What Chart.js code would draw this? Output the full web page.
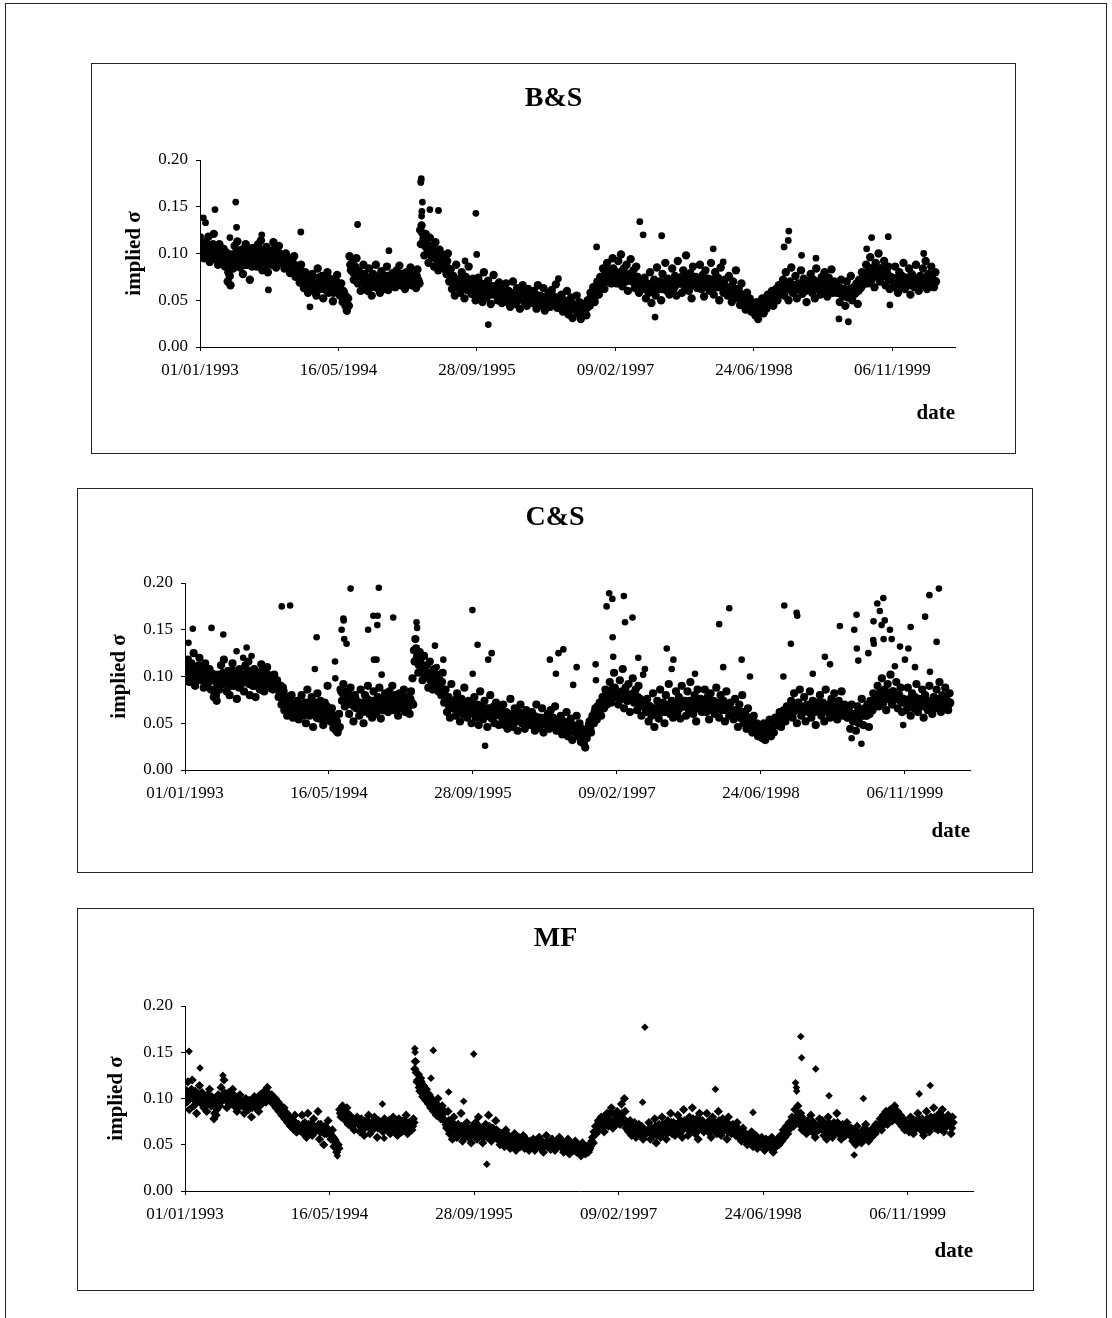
<!DOCTYPE html>
<html>
<head>
<meta charset="utf-8">
<script src="https://cdn.jsdelivr.net/npm/chart.js@4.4.0/dist/chart.umd.min.js"></script>
<style>
  body { margin: 0; background: #fff; }
  #page { position: relative; width: 1112px; height: 1318px; overflow: hidden; }
  .frame { position: absolute; border: 1px solid #222; box-sizing: border-box; }
  .panel canvas { position: absolute; left: -1px; top: -1px; }
</style>
</head>
<body>
<div id="page">
  <div class="frame" style="left:5px; top:3px; width:1102px; height:1340px;"></div>
</div>
<script>
// x values are calendar days counted from 01/01/1993
const stepDays = 5;          // spacing of each main series
const axisEndDay = 2726;
const tickDays = [0, 500, 1000, 1500, 2000, 2500];
const tickLabels = ['01/01/1993', '16/05/1994', '28/09/1995', '09/02/1997', '24/06/1998', '06/11/1999'];
const yTicks = [0, 0.05, 0.10, 0.15, 0.20];

// implied sigma in thousandths.
// *Vol: days 0, 5, 10, ...   *Vol2: days 2.5, 7.5, 12.5, ...
const bsVol = [
  104, 97, 112, 95, 108, 100, 118, 91, 106, 99, 121, 94, 103, 88, 110, 97, 92, 105, 86, 101,
  70, 92, 66, 99, 84, 108, 90, 113, 96, 85, 104, 78, 97, 110, 88, 101, 72, 94, 106, 90,
  98, 86, 110, 93, 114, 82, 100, 91, 107, 80, 96, 103, 88, 112, 94, 85, 99, 108, 90, 97,
  92, 84, 100, 88, 95, 79, 90, 86, 97, 75, 85, 80, 69, 88, 74, 63, 80, 70, 58, 76,
  65, 78, 60, 72, 55, 84, 68, 62, 76, 52, 70, 64, 80, 58, 73, 66, 49, 71, 60, 77,
  62, 55, 68, 48, 58, 44, 39, 52, 97, 82, 90, 72, 86, 95, 68, 80, 60, 75, 88, 66,
  72, 60, 84, 67, 55, 78, 70, 88, 63, 74, 58, 81, 69, 65, 76, 86, 61, 73, 68, 79,
  75, 64, 82, 70, 87, 66, 78, 72, 62, 80, 69, 74, 85, 66, 77, 71, 63, 83, 70, 125,
  130, 112, 98, 121, 105, 90, 117, 100, 108, 86, 112, 95, 82, 104, 90, 99, 84, 93, 78, 100,
  70, 83, 62, 76, 55, 88, 66, 72, 58, 80, 64, 52, 75, 61, 86, 68, 57, 73, 63, 50,
  62, 74, 55, 68, 48, 80, 60, 53, 71, 58, 46, 65, 77, 56, 62, 50, 69, 59, 47, 64,
  55, 68, 48, 60, 43, 57, 70, 51, 46, 63, 54, 41, 59, 66, 49, 55, 44, 62, 52, 58,
  47, 60, 52, 41, 66, 55, 45, 50, 63, 39, 54, 48, 58, 43, 61, 51, 46, 67, 42, 53,
  45, 56, 38, 50, 42, 60, 35, 47, 53, 31, 44, 40, 55, 36, 48, 30, 42, 38, 46, 34,
  50, 44, 58, 52, 64, 48, 60, 70, 56, 75, 66, 84, 62, 78, 90, 70, 82, 68, 95, 76,
  80, 68, 92, 74, 99, 65, 84, 72, 88, 60, 78, 94, 70, 82, 63, 86, 75, 58, 71, 66,
  62, 74, 52, 68, 58, 80, 47, 65, 72, 55, 85, 62, 70, 50, 78, 66, 90, 60, 73, 56,
  70, 84, 62, 76, 55, 92, 68, 74, 58, 82, 65, 98, 72, 60, 79, 52, 86, 67, 75, 63,
  70, 88, 62, 77, 54, 82, 66, 73, 60, 90, 69, 56, 80, 64, 74, 50, 85, 67, 58, 72,
  64, 55, 76, 60, 48, 70, 57, 82, 52, 62, 45, 68, 55, 48, 40, 58, 44, 52, 38, 46,
  40, 34, 48, 30, 44, 38, 52, 36, 45, 41, 56, 47, 50, 60, 44, 55, 62, 50, 66, 57,
  60, 72, 55, 80, 64, 50, 70, 85, 58, 66, 76, 52, 68, 62, 82, 57, 73, 65, 48, 70,
  66, 78, 58, 72, 52, 84, 63, 70, 56, 75, 68, 80, 60, 54, 74, 65, 83, 58, 70, 62,
  58, 66, 48, 72, 55, 62, 44, 70, 53, 60, 76, 50, 64, 57, 68, 46, 72, 63, 80, 67,
  74, 88, 68, 82, 96, 72, 85, 64, 90, 78, 100, 70, 84, 76, 92, 66, 80, 86, 62, 75,
  72, 64, 86, 70, 58, 80, 66, 76, 90, 62, 74, 68, 84, 56, 78, 70, 64, 88, 73, 60,
  76, 66, 84, 70, 92, 62, 78, 68, 86, 72, 64, 80
];
const bsVol2 = [
  100, 108, 96, 104, 112, 98, 106, 102, 94, 110, 100, 106, 97, 102, 92, 104, 98, 96, 100, 94,
  80, 76, 86, 92, 98, 94, 102, 100, 90, 96, 92, 100, 88, 104, 96, 92, 98, 86, 100, 96,
  92, 100, 96, 104, 90, 98, 94, 100, 88, 102, 92, 98, 96, 104, 90, 96, 92, 100, 96, 90,
  90, 96, 92, 86, 90, 84, 94, 80, 88, 82, 78, 86, 76, 80, 70, 74, 68, 76, 66, 70,
  70, 66, 72, 64, 68, 74, 62, 70, 66, 64, 74, 60, 68, 72, 62, 70, 58, 66, 70, 62,
  58, 62, 54, 60, 50, 54, 46, 44, 88, 86, 80, 84, 78, 74, 82, 72, 76, 70, 78, 72,
  68, 74, 70, 64, 72, 68, 76, 72, 66, 70, 74, 68, 62, 72, 70, 76, 68, 66, 74, 70,
  72, 70, 76, 68, 74, 72, 70, 76, 68, 74, 70, 78, 72, 70, 74, 68, 76, 72, 68, 110,
  122, 116, 108, 112, 100, 106, 104, 96, 102, 98, 94, 100, 92, 96, 88, 94, 90, 86, 92, 84,
  76, 70, 74, 66, 72, 64, 70, 68, 74, 62, 70, 66, 64, 70, 68, 62, 66, 64, 70, 60,
  58, 64, 60, 62, 56, 66, 58, 62, 60, 64, 56, 60, 62, 58, 66, 56, 60, 62, 58, 56,
  52, 56, 54, 58, 50, 56, 52, 58, 54, 50, 56, 52, 54, 58, 52, 56, 50, 54, 56, 52,
  52, 50, 56, 48, 52, 50, 54, 48, 52, 50, 46, 54, 50, 52, 48, 54, 50, 48, 52, 50,
  46, 44, 48, 42, 46, 44, 48, 40, 44, 46, 40, 44, 42, 46, 40, 42, 38, 42, 40, 42,
  48, 44, 54, 50, 60, 54, 66, 60, 70, 64, 74, 68, 78, 70, 80, 74, 82, 76, 84, 78,
  76, 78, 72, 80, 76, 74, 78, 70, 76, 74, 72, 78, 76, 70, 74, 72, 68, 70, 66, 68,
  66, 64, 68, 62, 66, 64, 60, 66, 64, 62, 68, 64, 66, 62, 68, 64, 70, 66, 62, 64,
  68, 72, 70, 66, 72, 70, 74, 68, 72, 70, 74, 72, 68, 72, 70, 66, 72, 70, 68, 70,
  68, 72, 66, 70, 64, 70, 66, 68, 70, 72, 66, 68, 70, 66, 68, 64, 70, 66, 62, 64,
  62, 60, 64, 58, 60, 56, 62, 58, 56, 54, 52, 56, 50, 52, 48, 50, 46, 48, 44, 46,
  42, 40, 44, 38, 42, 40, 44, 42, 44, 46, 48, 46, 50, 52, 54, 52, 56, 58, 60, 58,
  62, 64, 60, 66, 62, 64, 66, 62, 64, 60, 66, 64, 62, 66, 64, 62, 66, 60, 64, 62,
  64, 66, 62, 68, 64, 66, 62, 68, 66, 64, 68, 62, 66, 64, 68, 64, 66, 62, 64, 60,
  60, 58, 62, 56, 60, 58, 54, 60, 58, 62, 58, 60, 62, 58, 64, 60, 66, 64, 70, 72,
  74, 78, 80, 76, 82, 78, 80, 76, 82, 78, 80, 84, 78, 80, 76, 78, 74, 76, 72, 74,
  70, 72, 68, 74, 70, 72, 68, 74, 70, 72, 68, 70, 72, 66, 70, 72, 68, 70, 72, 68,
  70, 72, 68, 74, 70, 72, 68, 74, 70, 72, 68, 70
];
// isolated points: [day, sigma in thousandths]
const bsOutliers = [
  [2, 118], [12, 138], [20, 133], [54, 147], [108, 117], [129, 155], [132, 128], [223, 120],
  [247, 61], [364, 123], [397, 43], [529, 40], [531, 38], [569, 131], [682, 103],
  [797, 176], [798, 178], [799, 180], [800, 140], [801, 145], [803, 155], [830, 147], [861, 146],
  [957, 92], [996, 143], [999, 99], [1041, 24], [1294, 73], [1432, 107], [1588, 134], [1600, 120],
  [1643, 32], [1667, 119], [1853, 105], [1889, 91], [2109, 107], [2124, 114], [2126, 124],
  [2172, 98], [2224, 95], [2307, 30], [2341, 27], [2407, 105], [2425, 117], [2485, 118],
  [2491, 45], [2613, 100]
];

const csVol = [
  108, 98, 118, 94, 112, 102, 125, 90, 110, 100, 120, 96, 106, 88, 114, 99, 93, 108, 86, 103,
  78, 95, 74, 102, 86, 112, 92, 118, 98, 84, 106, 80, 99, 114, 90, 104, 76, 96, 108, 92,
  100, 84, 112, 95, 116, 80, 102, 90, 108, 78, 98, 104, 86, 113, 96, 84, 100, 110, 88, 97,
  94, 86, 102, 88, 96, 78, 84, 70, 88, 64, 76, 58, 72, 62, 80, 56, 68, 60, 74, 54,
  66, 80, 58, 72, 50, 86, 64, 60, 78, 46, 70, 62, 82, 55, 74, 65, 48, 72, 58, 90,
  62, 52, 66, 45, 56, 42, 40, 60, 86, 74, 92, 68, 84, 78, 60, 88, 72, 52, 80, 66,
  70, 58, 86, 64, 50, 80, 68, 90, 60, 74, 56, 84, 66, 62, 78, 88, 55, 72, 64, 82,
  76, 62, 84, 68, 90, 64, 80, 72, 58, 82, 66, 74, 86, 62, 78, 70, 60, 84, 98, 128,
  140, 120, 104, 126, 110, 96, 122, 102, 112, 88, 116, 98, 86, 108, 92, 102, 84, 96, 80, 104,
  72, 86, 62, 78, 56, 92, 66, 74, 58, 82, 64, 52, 76, 60, 88, 68, 56, 74, 62, 50,
  64, 78, 56, 70, 48, 84, 62, 54, 74, 58, 46, 66, 80, 55, 64, 50, 72, 60, 48, 66,
  58, 70, 48, 62, 44, 60, 76, 52, 46, 66, 55, 42, 62, 70, 50, 56, 44, 64, 52, 60,
  48, 62, 54, 42, 70, 56, 45, 52, 66, 40, 56, 48, 60, 44, 64, 52, 46, 68, 42, 54,
  46, 58, 38, 52, 42, 62, 36, 48, 55, 32, 45, 40, 58, 36, 50, 30, 42, 28, 24, 34,
  44, 52, 40, 58, 50, 66, 54, 62, 72, 58, 78, 66, 86, 70, 80, 94, 72, 84, 104, 78,
  82, 70, 96, 76, 108, 66, 88, 74, 92, 62, 80, 98, 72, 86, 64, 90, 76, 58, 72, 68,
  62, 76, 52, 68, 58, 82, 46, 66, 74, 55, 86, 62, 72, 50, 80, 66, 92, 60, 74, 56,
  72, 84, 62, 78, 55, 90, 68, 74, 58, 84, 64, 94, 72, 60, 80, 52, 86, 66, 76, 62,
  70, 86, 62, 78, 54, 82, 66, 74, 60, 88, 68, 56, 80, 64, 74, 52, 84, 66, 58, 72,
  62, 54, 76, 58, 46, 70, 56, 80, 50, 62, 44, 66, 54, 46, 40, 58, 44, 50, 36, 46,
  42, 34, 50, 32, 46, 38, 54, 36, 46, 40, 56, 48, 52, 62, 46, 58, 64, 52, 68, 58,
  62, 74, 56, 82, 64, 50, 72, 86, 58, 66, 78, 52, 70, 62, 84, 56, 74, 66, 48, 72,
  66, 80, 58, 72, 52, 86, 64, 70, 56, 76, 68, 82, 60, 54, 74, 66, 84, 58, 70, 62,
  56, 64, 44, 70, 52, 60, 42, 68, 50, 62, 76, 48, 66, 58, 70, 46, 74, 64, 82, 68,
  76, 90, 68, 84, 98, 72, 86, 64, 92, 78, 102, 70, 84, 76, 94, 66, 80, 88, 62, 76,
  74, 64, 88, 70, 58, 82, 66, 78, 92, 62, 76, 68, 86, 56, 80, 70, 64, 90, 74, 60,
  78, 66, 86, 70, 94, 62, 80, 68, 88, 72, 64, 82
];
const csVol2 = [
  102, 110, 98, 106, 114, 100, 108, 104, 96, 112, 102, 108, 99, 104, 94, 106, 100, 98, 102, 96,
  84, 80, 90, 96, 100, 96, 104, 102, 92, 98, 94, 102, 90, 106, 98, 94, 100, 88, 102, 98,
  94, 102, 98, 106, 92, 100, 96, 102, 90, 104, 94, 100, 98, 106, 92, 98, 94, 102, 98, 92,
  92, 98, 94, 88, 92, 84, 90, 78, 84, 74, 72, 78, 68, 72, 64, 68, 62, 70, 60, 64,
  66, 62, 70, 60, 66, 72, 58, 68, 64, 60, 72, 56, 66, 70, 58, 68, 54, 64, 68, 60,
  58, 62, 52, 58, 48, 52, 44, 46, 84, 82, 78, 82, 76, 72, 80, 70, 74, 68, 76, 70,
  68, 72, 70, 62, 72, 66, 76, 70, 64, 70, 74, 66, 60, 72, 68, 76, 66, 64, 72, 68,
  72, 70, 76, 68, 74, 72, 70, 76, 66, 74, 70, 78, 72, 70, 74, 68, 76, 72, 70, 116,
  130, 122, 112, 116, 104, 110, 106, 100, 104, 100, 96, 102, 94, 98, 90, 96, 92, 88, 94, 86,
  78, 72, 76, 68, 74, 66, 72, 70, 76, 64, 72, 68, 66, 72, 70, 64, 68, 66, 72, 62,
  60, 66, 62, 64, 58, 68, 60, 64, 62, 66, 58, 62, 64, 60, 68, 58, 62, 64, 60, 58,
  54, 58, 56, 60, 52, 58, 54, 60, 56, 52, 58, 54, 56, 60, 54, 58, 52, 56, 58, 54,
  54, 52, 58, 50, 54, 52, 56, 50, 54, 52, 48, 56, 52, 54, 50, 56, 52, 50, 54, 52,
  48, 46, 50, 44, 48, 46, 50, 42, 46, 48, 42, 46, 44, 48, 42, 44, 38, 40, 36, 42,
  48, 44, 54, 50, 62, 56, 68, 62, 72, 66, 78, 70, 82, 74, 84, 78, 86, 80, 88, 82,
  80, 82, 76, 84, 80, 78, 82, 74, 80, 78, 76, 82, 80, 74, 78, 76, 70, 72, 68, 70,
  66, 64, 68, 62, 66, 64, 60, 66, 64, 62, 68, 64, 66, 62, 68, 64, 70, 66, 62, 64,
  68, 72, 70, 66, 72, 70, 74, 68, 72, 70, 74, 72, 68, 72, 70, 66, 72, 70, 68, 70,
  68, 72, 66, 70, 64, 70, 66, 68, 70, 72, 66, 68, 70, 66, 68, 64, 70, 66, 62, 64,
  62, 60, 64, 58, 60, 56, 62, 58, 56, 54, 52, 56, 50, 52, 48, 50, 46, 48, 44, 46,
  44, 42, 46, 40, 44, 42, 46, 44, 46, 48, 50, 48, 52, 54, 56, 54, 58, 60, 62, 60,
  64, 66, 62, 68, 64, 66, 68, 64, 66, 62, 68, 66, 64, 68, 66, 64, 68, 62, 66, 64,
  64, 66, 62, 68, 64, 66, 62, 68, 66, 64, 68, 62, 66, 64, 68, 64, 66, 62, 64, 60,
  58, 56, 60, 54, 58, 56, 52, 58, 56, 60, 58, 60, 62, 58, 64, 60, 66, 64, 70, 72,
  74, 78, 80, 76, 82, 78, 80, 76, 82, 78, 80, 84, 78, 80, 76, 78, 74, 76, 72, 74,
  72, 74, 70, 76, 72, 74, 70, 76, 72, 74, 70, 72, 74, 68, 72, 74, 70, 72, 74, 70,
  72, 74, 70, 76, 72, 74, 70, 76, 72, 74, 70, 72
];
const csOutliers = [
  [12, 136], [27, 151], [92, 152], [133, 145], [179, 127], [202, 120], [214, 131], [231, 122],
  [336, 175], [365, 176], [451, 108], [457, 142], [521, 116], [522, 98], [544, 150], [550, 162],
  [551, 160], [553, 140], [561, 135], [575, 194], [636, 150], [654, 165], [656, 118], [665, 118],
  [668, 155], [669, 165], [673, 195], [683, 102], [723, 163], [804, 158], [806, 152], [868, 133],
  [874, 110], [897, 118], [998, 171], [999, 103], [1016, 134], [1042, 26], [1053, 118], [1065, 125],
  [1267, 118], [1288, 103], [1297, 125], [1314, 129], [1348, 91], [1360, 110], [1426, 113],
  [1427, 96], [1464, 175], [1473, 189], [1484, 183], [1485, 142], [1487, 121], [1524, 186],
  [1528, 158], [1554, 163], [1574, 120], [1591, 102], [1597, 108], [1673, 130], [1690, 108],
  [1696, 118], [1771, 103], [1855, 156], [1869, 110], [1890, 173], [1933, 118], [1962, 100],
  [2078, 100], [2081, 176], [2104, 135], [2124, 168], [2126, 165], [2180, 103], [2222, 121],
  [2240, 113], [2274, 154], [2315, 34], [2324, 150], [2332, 166], [2333, 130], [2338, 117],
  [2349, 28], [2373, 125], [2390, 139], [2391, 159], [2392, 135], [2404, 178], [2413, 170],
  [2419, 155], [2425, 184], [2426, 140], [2430, 160], [2448, 150], [2454, 140], [2465, 111],
  [2483, 132], [2494, 48], [2500, 118], [2512, 130], [2520, 153], [2535, 110], [2570, 164],
  [2585, 187], [2587, 105], [2610, 137], [2618, 194]
];

const mfVol = [
  110, 96, 118, 88, 104, 120, 92, 108, 84, 100, 114, 95, 106, 90, 102, 86, 98, 110, 92, 100,
  78, 96, 88, 104, 92, 112, 98, 120, 100, 90, 106, 94, 100, 110, 92, 102, 86, 96, 104, 92,
  94, 84, 100, 92, 88, 98, 80, 94, 102, 90, 96, 86, 104, 94, 100, 108, 96, 112, 102, 98,
  104, 94, 98, 90, 96, 86, 92, 82, 88, 78, 84, 74, 80, 70, 76, 68, 82, 64, 72, 66,
  70, 82, 62, 74, 58, 84, 66, 72, 60, 78, 64, 68, 86, 56, 72, 64, 50, 70, 62, 76,
  64, 56, 66, 48, 54, 42, 50, 88, 80, 92, 84, 76, 90, 72, 82, 70, 78, 66, 74, 80,
  72, 64, 78, 68, 60, 76, 70, 82, 62, 74, 66, 80, 70, 58, 76, 68, 72, 64, 78, 70,
  68, 76, 62, 72, 80, 66, 74, 60, 78, 70, 64, 76, 68, 82, 62, 74, 70, 66, 78, 132,
  128, 120, 112, 122, 106, 114, 100, 110, 96, 104, 90, 98, 86, 94, 82, 100, 88, 78, 92, 84,
  76, 68, 86, 62, 74, 56, 80, 66, 58, 72, 62, 84, 54, 68, 60, 74, 58, 66, 52, 70,
  62, 74, 56, 80, 60, 68, 52, 64, 72, 58, 82, 62, 54, 68, 60, 76, 56, 64, 50, 62,
  58, 48, 66, 54, 60, 46, 56, 50, 62, 44, 54, 58, 48, 52, 60, 46, 56, 50, 44, 54,
  50, 56, 44, 52, 48, 58, 46, 54, 42, 50, 60, 48, 52, 45, 56, 50, 44, 54, 48, 58,
  48, 54, 42, 50, 46, 56, 40, 52, 48, 44, 54, 42, 50, 46, 38, 52, 44, 40, 48, 42,
  46, 52, 58, 64, 70, 66, 76, 68, 80, 72, 64, 78, 84, 70, 76, 90, 68, 82, 74, 86,
  80, 72, 94, 76, 100, 68, 70, 64, 76, 60, 68, 74, 58, 66, 72, 62, 70, 56, 66, 62,
  64, 74, 56, 68, 60, 78, 52, 66, 72, 58, 80, 64, 70, 56, 76, 68, 84, 62, 74, 60,
  72, 82, 64, 76, 58, 88, 70, 74, 60, 80, 66, 90, 72, 62, 78, 56, 84, 68, 76, 64,
  70, 84, 64, 76, 58, 80, 68, 74, 62, 86, 70, 60, 78, 66, 74, 56, 80, 68, 62, 72,
  66, 60, 74, 58, 64, 54, 68, 56, 62, 50, 58, 52, 64, 48, 56, 60, 46, 54, 50, 58,
  50, 44, 56, 48, 54, 46, 58, 42, 52, 48, 56, 50, 60, 54, 66, 58, 70, 62, 74, 68,
  80, 70, 88, 76, 92, 72, 84, 66, 78, 70, 62, 76, 68, 82, 64, 74, 58, 70, 66, 78,
  68, 76, 60, 72, 56, 80, 66, 70, 58, 74, 64, 84, 62, 70, 56, 72, 66, 60, 74, 64,
  60, 68, 54, 64, 50, 70, 58, 62, 52, 66, 56, 72, 60, 54, 64, 58, 68, 62, 72, 66,
  70, 78, 66, 82, 74, 86, 72, 80, 88, 76, 84, 92, 78, 86, 74, 82, 70, 78, 66, 74,
  72, 64, 80, 70, 62, 76, 68, 84, 74, 66, 78, 60, 72, 86, 70, 64, 80, 74, 90, 68,
  76, 66, 84, 72, 88, 64, 78, 70, 82, 74, 62, 80
];
const mfVol2 = [
  100, 106, 98, 104, 110, 100, 104, 98, 96, 104, 100, 106, 98, 102, 94, 104, 100, 96, 102, 98,
  84, 82, 92, 98, 100, 98, 104, 106, 100, 96, 98, 102, 96, 104, 98, 96, 94, 92, 98, 94,
  92, 96, 94, 98, 92, 96, 90, 96, 98, 94, 96, 92, 100, 98, 102, 104, 100, 106, 104, 102,
  102, 94, 100, 90, 96, 86, 92, 82, 90, 78, 84, 74, 80, 70, 76, 66, 74, 64, 72, 66,
  68, 72, 66, 70, 64, 72, 68, 70, 66, 70, 68, 66, 72, 64, 68, 66, 62, 68, 64, 66,
  62, 60, 58, 56, 52, 50, 46, 84, 86, 88, 86, 82, 84, 78, 80, 76, 78, 74, 76, 76,
  72, 70, 74, 70, 68, 72, 70, 74, 68, 72, 70, 74, 70, 68, 72, 70, 72, 68, 72, 70,
  70, 72, 68, 72, 74, 70, 72, 68, 74, 70, 68, 72, 70, 74, 68, 72, 70, 70, 74, 140,
  118, 126, 108, 118, 102, 112, 98, 106, 94, 102, 90, 98, 86, 94, 82, 92, 80, 88, 78, 86,
  72, 70, 76, 66, 70, 64, 72, 66, 64, 68, 64, 70, 60, 66, 62, 68, 62, 64, 60, 66,
  62, 66, 60, 70, 62, 64, 58, 62, 66, 60, 70, 62, 58, 64, 60, 66, 58, 62, 56, 60,
  56, 52, 58, 54, 56, 50, 54, 52, 56, 50, 54, 56, 52, 52, 56, 50, 54, 52, 50, 52,
  50, 52, 48, 50, 50, 54, 48, 52, 48, 50, 54, 50, 50, 48, 52, 50, 48, 52, 50, 52,
  48, 50, 46, 48, 46, 50, 44, 48, 48, 46, 50, 44, 48, 46, 44, 48, 46, 44, 46, 44,
  48, 54, 52, 64, 62, 72, 66, 76, 72, 80, 70, 80, 76, 84, 74, 84, 76, 82, 72, 80,
  78, 76, 84, 78, 86, 74, 72, 68, 72, 66, 68, 70, 64, 66, 68, 64, 66, 62, 64, 64,
  64, 68, 62, 66, 64, 70, 60, 66, 68, 62, 72, 66, 68, 62, 70, 68, 74, 66, 70, 64,
  70, 74, 68, 72, 66, 76, 70, 72, 66, 74, 70, 78, 72, 68, 74, 66, 76, 70, 72, 68,
  70, 74, 68, 72, 66, 74, 70, 72, 68, 76, 70, 66, 72, 68, 70, 64, 72, 68, 66, 68,
  64, 62, 68, 62, 62, 58, 64, 58, 60, 56, 58, 56, 60, 54, 56, 58, 52, 54, 54, 56,
  52, 50, 54, 50, 52, 50, 54, 48, 52, 50, 54, 52, 58, 56, 62, 62, 66, 66, 70, 70,
  76, 74, 80, 76, 84, 74, 78, 70, 74, 70, 66, 72, 68, 76, 66, 70, 64, 68, 66, 72,
  68, 72, 64, 70, 62, 74, 66, 68, 62, 70, 66, 74, 64, 68, 62, 68, 66, 62, 70, 64,
  62, 64, 58, 62, 56, 64, 60, 60, 56, 62, 58, 66, 60, 58, 62, 60, 64, 62, 68, 68,
  72, 74, 70, 78, 74, 80, 74, 78, 82, 76, 80, 84, 78, 80, 74, 78, 72, 74, 70, 72,
  72, 68, 76, 70, 66, 74, 70, 78, 72, 68, 74, 66, 72, 78, 70, 68, 76, 72, 80, 70,
  74, 70, 78, 72, 80, 68, 74, 72, 76, 72, 68, 74
];
const mfOutliers = [
  [14, 151], [52, 133], [131, 125], [527, 38], [683, 94], [689, 57], [794, 140], [795, 154],
  [796, 150], [851, 122], [859, 152], [912, 107], [964, 97], [999, 148], [1044, 29], [1583, 96],
  [1591, 177], [1835, 110], [1965, 85], [2112, 117], [2115, 112], [2116, 108], [2130, 167],
  [2133, 144], [2182, 132], [2228, 103], [2315, 39], [2347, 100], [2540, 105], [2578, 114]
];

const serif = '"Liberation Serif", "Times New Roman", serif';

// box = [left, top, width, height] of the framed panel, plot = [left, top, right, bottom] of the axes
const panels = [
  { title: 'B&S', vol: bsVol, vol2: bsVol2, out: bsOutliers, box: [91, 63, 925, 391], plot: [200, 160, 955, 347],
    titleY: 99, yTitleX: 135, dateY: 414, marker: 'circle', r: 3.4, rCore: 4.2 },
  { title: 'C&S', vol: csVol, vol2: csVol2, out: csOutliers, box: [77, 488, 956, 385], plot: [185, 583, 970, 770],
    titleY: 518, yTitleX: 120, dateY: 832, marker: 'circle', r: 3.3, rCore: 4.1 },
  { title: 'MF', vol: mfVol, vol2: mfVol2, out: mfOutliers, box: [77, 908, 957, 383], plot: [185, 1006, 973, 1191],
    titleY: 939, yTitleX: 117, dateY: 1252, marker: 'rectRot', r: 3.8, rCore: 4.6 }
];

function drawPanel(p) {
  const [bx, by, bw, bh] = p.box;
  const [pl, pt, pr, pb] = p.plot;

  const wrap = document.createElement('div');
  wrap.className = 'frame panel';
  wrap.style.cssText = `left:${bx}px; top:${by}px; width:${bw}px; height:${bh}px;`;
  const canvas = document.createElement('canvas');
  canvas.width = bw;
  canvas.height = bh;
  canvas.style.width = bw + 'px';
  canvas.style.height = bh + 'px';
  wrap.appendChild(canvas);
  document.getElementById('page').appendChild(wrap);

  const titleLH = 28 * 1.2;
  const core = p.vol.map((v, i) => ({ x: i * stepDays, y: v / 1000 }))
    .concat(p.vol2.map((v, i) => ({ x: i * stepDays + stepDays / 2, y: v / 1000 })));
  const lone = p.out.map(o => ({ x: o[0], y: o[1] / 1000 }));

  const axisGrid = { display: true, drawOnChartArea: false, drawTicks: true, tickLength: 4, color: '#000' };
  const axisBorder = { display: true, color: '#000', width: 1 };
  const dot = { pointStyle: p.marker, backgroundColor: '#000', borderColor: '#000', borderWidth: 0 };

  new Chart(canvas, {
    type: 'scatter',
    data: {
      datasets: [
        Object.assign({ data: core, pointRadius: p.rCore, pointHoverRadius: p.rCore }, dot),
        Object.assign({ data: lone, pointRadius: p.r, pointHoverRadius: p.r }, dot)
      ]
    },
    options: {
      responsive: false,
      animation: false,
      events: [],
      layout: { padding: 0 },
      plugins: {
        legend: { display: false },
        tooltip: { enabled: false },
        title: {
          display: true,
          text: p.title,
          color: '#000',
          font: { family: serif, size: 28, weight: 'bold', lineHeight: 1.2 },
          padding: { top: p.titleY - by - titleLH / 2, bottom: (pt - p.titleY) - titleLH / 2 }
        }
      },
      scales: {
        x: {
          type: 'linear',
          min: 0,
          max: axisEndDay,
          afterBuildTicks: s => { s.ticks = tickDays.map(v => ({ value: v })); },
          afterFit: s => { s.height = bh - (pb - by); },
          ticks: {
            callback: (v, i) => tickLabels[i],
            autoSkip: false,
            maxRotation: 0,
            padding: 9,
            color: '#000',
            font: { family: serif, size: 17 }
          },
          grid: axisGrid,
          border: axisBorder,
          title: {
            display: true,
            text: 'date',
            align: 'end',
            color: '#000',
            font: { family: serif, size: 21, weight: 'bold', lineHeight: 1.2 },
            padding: { top: 0, bottom: bh - (p.dateY - by) - 12.6 }
          }
        },
        y: {
          min: 0,
          max: 0.2,
          afterBuildTicks: s => { s.ticks = yTicks.map(v => ({ value: v })); },
          afterFit: s => { s.width = pl - bx; },
          ticks: {
            callback: v => v.toFixed(2),
            padding: 8,
            color: '#000',
            font: { family: serif, size: 17 }
          },
          grid: axisGrid,
          border: axisBorder,
          title: {
            display: true,
            text: 'implied σ',
            color: '#000',
            font: { family: serif, size: 21, weight: 'bold', lineHeight: 1.2 },
            padding: { top: p.yTitleX - bx - 12.6, bottom: 0 }
          }
        },
        // empty right-hand strip so the panel title is centred on the whole frame
        gap: {
          type: 'linear',
          position: 'right',
          min: 0,
          max: 1,
          grid: { display: false },
          border: { display: false },
          ticks: { display: false },
          afterFit: s => { s.width = bw - (pr - bx); }
        }
      }
    }
  });
}

panels.forEach(drawPanel);
</script>
</body>
</html>
